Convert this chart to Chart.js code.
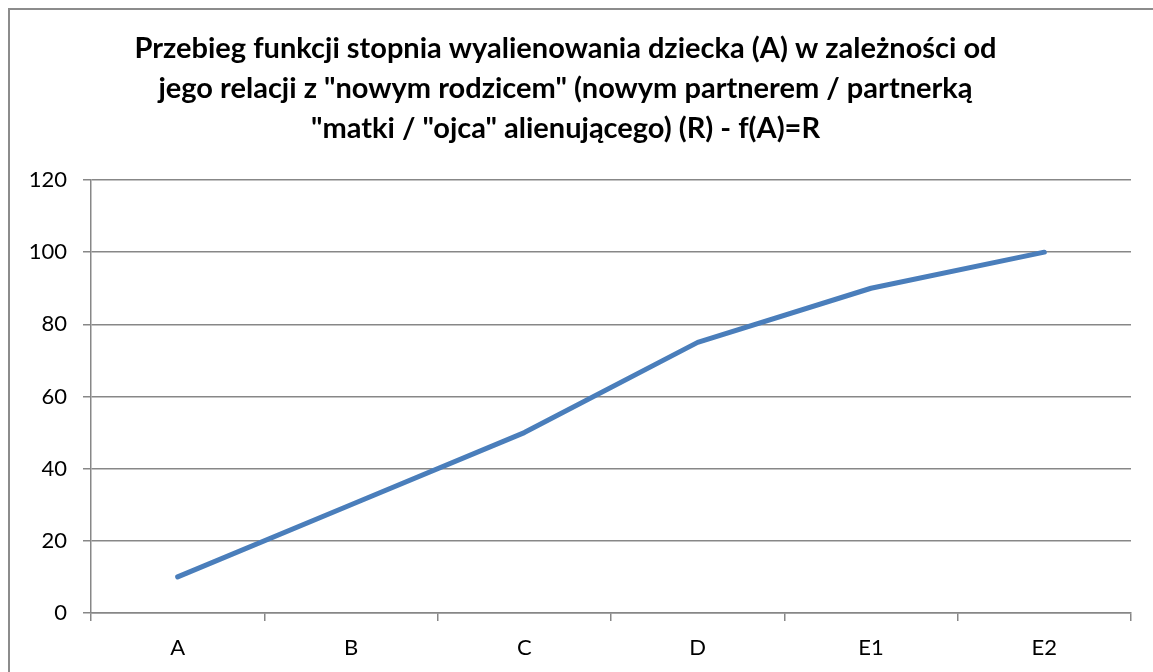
<!DOCTYPE html>
<html>
<head>
<meta charset="utf-8">
<script src="https://cdn.jsdelivr.net/npm/chart.js@4/dist/chart.umd.min.js"></script>
<style>
  html, body { margin: 0; padding: 0; background: #fff; overflow: hidden; }
  #frame {
    position: absolute; left: 8px; top: 8px; width: 1160px; height: 680px;
    border: 2px solid #8c8c8c; box-sizing: border-box;
  }
  #wrap { position: absolute; left: 0; top: 0; width: 1153px; height: 672px; }
</style>
</head>
<body>
<div id="frame"></div>
<div id="wrap"><canvas id="chart" width="1153" height="672"></canvas></div>
<script>
// chart data
const categories = ['A', 'B', 'C', 'D', 'E1', 'E2'];
const values = [10, 30, 50, 75, 90, 100];
const titleLines = [
  'Przebieg funkcji stopnia wyalienowania dziecka (A) w zależności od',
  'jego relacji z "nowym rodzicem" (nowym partnerem / partnerką',
  '"matki / "ojca" alienującego) (R) - f(A)=R'
];
const yTicks = [0, 20, 40, 60, 80, 100, 120];

const gridGray = '#878787';

const ctx = document.getElementById('chart').getContext('2d');
new Chart(ctx, {
  type: 'line',
  data: {
    labels: categories,
    datasets: [{
      data: values,
      borderColor: '#4a7ebb',
      borderWidth: 5,
      borderCapStyle: 'round',
      borderJoinStyle: 'round',
      pointRadius: 0,
      tension: 0,
      fill: false
    }]
  },
  options: {
    responsive: false,
    animation: false,
    layout: { padding: { left: 0, right: 22, top: 0, bottom: 0 } },
    plugins: {
      legend: { display: false },
      tooltip: { enabled: false },
      title: {
        display: true,
        text: titleLines,
        color: '#000',
        font: { family: 'Lato', size: 29, weight: 'bold', lineHeight: 40 / 29 },
        padding: { top: 29, bottom: 31 }
      }
    },
    scales: {
      x: {
        offset: true,
        grid: {
          offset: true,
          drawOnChartArea: false,
          drawTicks: true,
          tickLength: 8,
          color: gridGray,
          lineWidth: 1.5
        },
        border: { color: gridGray, width: 1.5 },
        ticks: { color: '#000', padding: 14, font: { family: 'Lato', size: 22 } },
        afterFit: (s) => { s.height = 59; }
      },
      y: {
        min: 0,
        max: 120,
        afterBuildTicks: (s) => { s.ticks = yTicks.map(v => ({ value: v })); },
        grid: { color: gridGray, lineWidth: 1.5, tickLength: 8 },
        border: { color: gridGray, width: 1.5 },
        ticks: { color: '#000', padding: 16, font: { family: 'Lato', size: 22 } },
        afterFit: (s) => { s.width = 91; }
      }
    }
  }
});
</script>
</body>
</html>
